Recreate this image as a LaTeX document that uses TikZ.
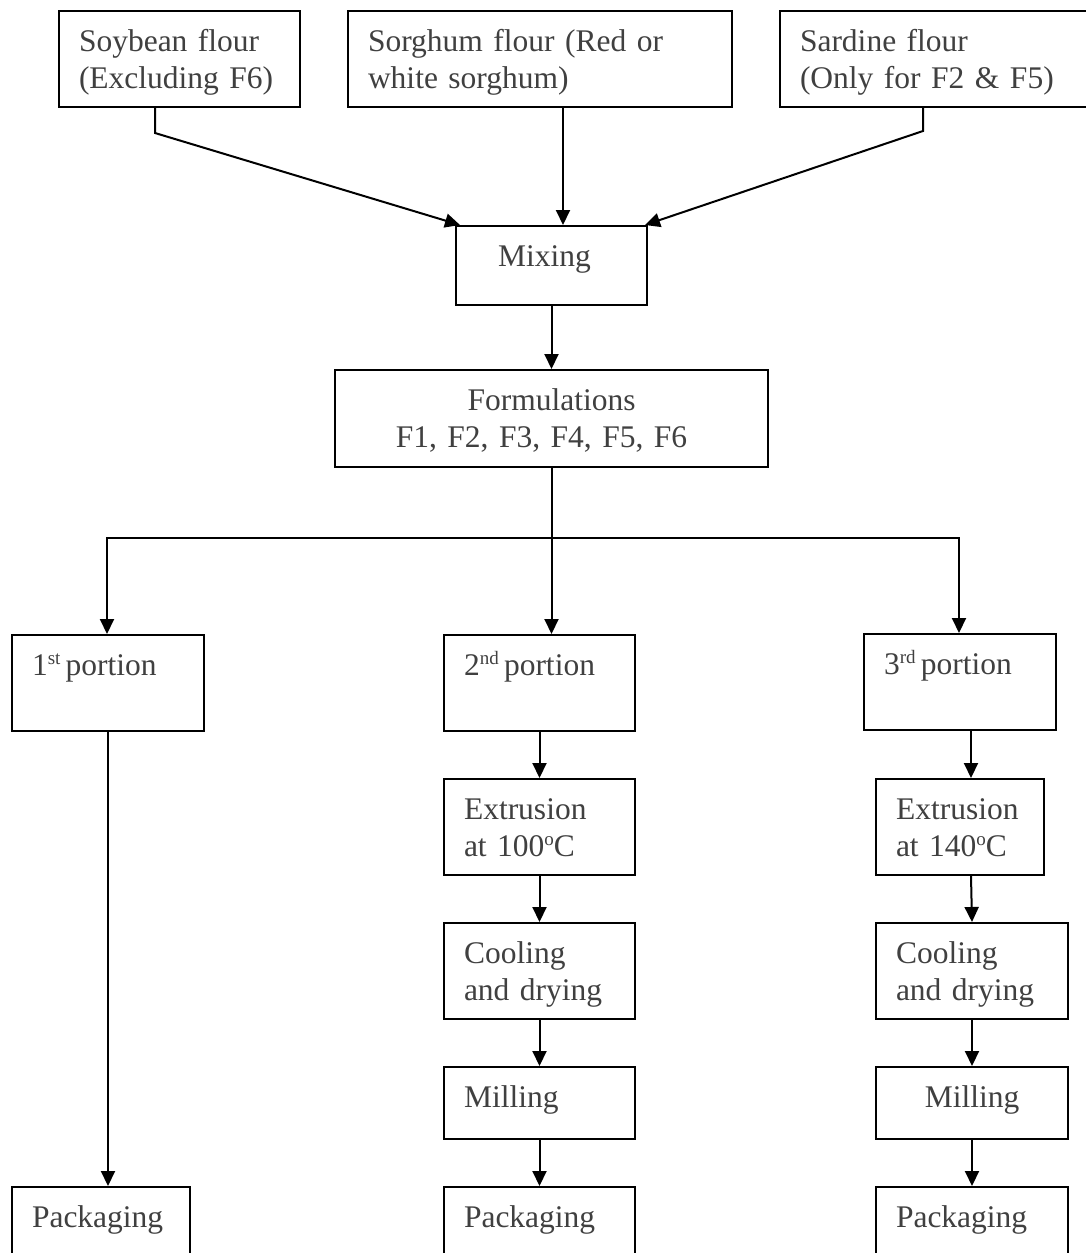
\documentclass[tikz,border=0pt]{standalone}
\usepackage{fontspec}
\setmainfont{Liberation Serif}
\usetikzlibrary{arrows.meta,calc}
\definecolor{txt}{HTML}{404040}
\newcommand\supx[1]{\raisebox{11pt}{\fontsize{19}{19}\selectfont #1}}
\begin{document}
\begin{tikzpicture}[x=1pt,y=-1pt,
  box/.style={draw,line width=2pt,anchor=north west,inner xsep=20pt,inner ysep=0pt,
    text height=40pt,align=left,text=txt,font=\fontsize{31.5}{37}\selectfont},
  arr/.style={line width=2pt,-{Triangle[length=15pt,width=14pt]}},
  ln/.style={line width=2pt}]
\useasboundingbox (0,0) rectangle (1086,1253);
% top row
\node[box,text width=201pt,text depth=56pt] (soy) at (58,10) {Soybean flour\\(Excluding F6)};
\node[box,text width=344pt,text depth=56pt] (sor) at (347,10) {Sorghum flour (Red or\\white sorghum)};
\node[box,text width=290pt,text depth=56pt] (sar) at (779,10) {Sardine flour\\(Only for F2 \& F5)};
\node[box,align=center,text width=151pt,text depth=39pt] (mix) at (455,225) {Mixing\hspace*{14pt}};
\node[box,align=center,text width=393pt,text depth=57pt] (form) at (334,369) {Formulations\\F1, F2, F3, F4, F5, F6\hspace*{20pt}};
% portions
\node[box,text width=152pt,text depth=56pt] (p1) at (11,634) {1\supx{st}\,portion};
\node[box,text width=151pt,text depth=56pt] (p2) at (443,634) {2\supx{nd}\,portion};
\node[box,text width=152pt,text depth=56pt] (p3) at (863,633) {3\supx{rd}\,portion};
% middle column
\node[box,text width=151pt,text depth=56pt] (ex2) at (443,778) {Extrusion\\at 100\supx{o}C};
\node[box,text width=151pt,text depth=56pt] (co2) at (443,922) {Cooling\\and drying};
\node[box,text width=151pt,text depth=32pt] (mi2) at (443,1066) {Milling};
\node[box,text width=151pt,text depth=37pt] (pk2) at (443,1186) {Packaging};
% right column
\node[box,text width=128pt,text depth=56pt] (ex3) at (875,778) {Extrusion\\at 140\supx{o}C};
\node[box,text width=152pt,text depth=56pt] (co3) at (875,922) {Cooling\\and drying};
\node[box,align=center,text width=152pt,text depth=32pt] (mi3) at (875,1066) {Milling};
\node[box,text width=152pt,text depth=37pt] (pk3) at (875,1186) {Packaging};
% left packaging
\node[box,text width=138pt,text depth=37pt] (pk1) at (11,1186) {Packaging};
% connectors top
\coordinate (s1) at ($(soy.south west)+(97,0)$);
\coordinate (s2) at ($(sor.south west)+(216,0)$);
\coordinate (s3) at ($(sar.south west)+(144,0)$);
\draw[arr] (s1) -- ++(0,25) -- ($(mix.north west)+(5,0)$);
\draw[arr] (s2) -- (s2 |- mix.north);
\draw[arr] (s3) -- ++(0,23) -- ($(mix.north east)+(-3,0)$);
\draw[arr] (mix.south) -- (form.north);
% split
\coordinate (jL) at (107,538);
\coordinate (jR) at (959,538);
\draw[arr] (form.south |- jL) -- (jL) -- (jL |- p1.north);
\draw[arr] (form.south |- jR) -- (jR) -- (jR |- p3.north);
\draw[arr] (form.south) -- (form.south |- p2.north);
% left column
\draw[arr] (p1.south) -- (p1.south |- pk1.north);
% middle column
\draw[arr] (p2.south) -- (ex2.north);
\draw[arr] (ex2.south) -- (co2.north);
\draw[arr] (co2.south) -- (mi2.north);
\draw[arr] (mi2.south) -- (pk2.north);
% right column
\coordinate (c3) at (971,0);
\draw[arr] (p3.south -| c3) -- (ex3.north -| c3);
\draw[arr] (ex3.south -| c3) -- (co3.north);
\draw[arr] (co3.south) -- (mi3.north);
\draw[arr] (mi3.south) -- (pk3.north);
\end{tikzpicture}
\end{document}
